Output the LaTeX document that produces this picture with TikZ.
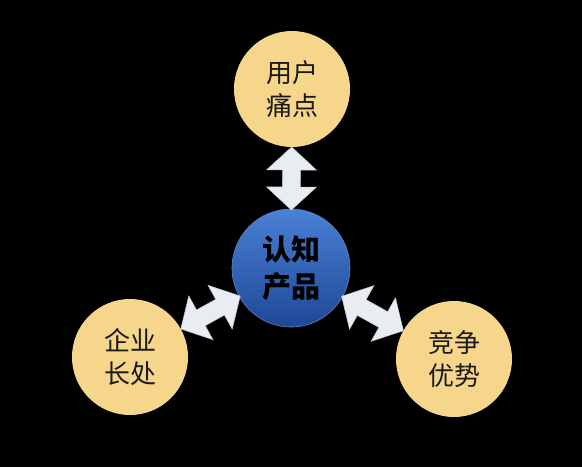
\documentclass[tikz,border=0pt]{standalone}
\usepackage{fontspec}
\newfontfamily\cjk{Noto Sans CJK SC}
\usetikzlibrary{calc}
\definecolor{circyellow}{HTML}{F6D68A}
\definecolor{arrowfill}{HTML}{E9EDF2}
\definecolor{arrowedge}{HTML}{B8C4D6}
\definecolor{bluetop}{HTML}{4A80D6}
\definecolor{bluebot}{HTML}{1E4896}
\tikzset{
  outer/.style={circle, fill=circyellow, minimum size=116pt, inner sep=0pt,
    align=center, font=\cjk\fontsize{26}{33}\selectfont, text=black!90},
  hub/.style={circle, top color=bluetop, bottom color=bluebot, draw=bluebot!70!white, line width=0.6pt,
    minimum size=118pt, inner sep=0pt, align=center,
    font=\cjk\bfseries\fontsize{29}{37}\selectfont, text=black},
  dblarr/.style={fill=arrowfill, draw=arrowedge, line width=0.5pt, line join=miter}
}
\newcommand{\dblarrow}[2]{%
  \coordinate (P) at ($(#1)!58pt!(#2)$);
  \coordinate (Q) at ($(#2)!58pt!(#1)$);
  \coordinate (P2) at ($(P)!23pt!(Q)$);
  \coordinate (Q2) at ($(Q)!23pt!(P)$);
  \draw[dblarr] (P) -- ($(P2)!25pt!90:(Q)$) -- ($(P2)!9pt!90:(Q)$)
    -- ($(Q2)!9pt!-90:(P)$) -- ($(Q2)!25pt!-90:(P)$) -- (Q)
    -- ($(Q2)!25pt!90:(P)$) -- ($(Q2)!9pt!90:(P)$)
    -- ($(P2)!9pt!-90:(Q)$) -- ($(P2)!25pt!-90:(Q)$) -- cycle;%
}
\begin{document}
\begin{tikzpicture}[x=1pt,y=-1pt]
  \fill[black] (0,0) rectangle (582,467);
  \useasboundingbox (0,0) rectangle (582,467);
  \node[hub] (c) at (291,268) {认知\\产品};
  \node[outer] (t) at (292,89) {用户\\痛点};
  \node[outer] (l) at (130,357) {企业\\长处};
  \node[outer] (r) at (454,359) {竞争\\优势};
  \dblarrow{t}{c}
  \dblarrow{c}{l}
  \dblarrow{c}{r}
\end{tikzpicture}
\end{document}
